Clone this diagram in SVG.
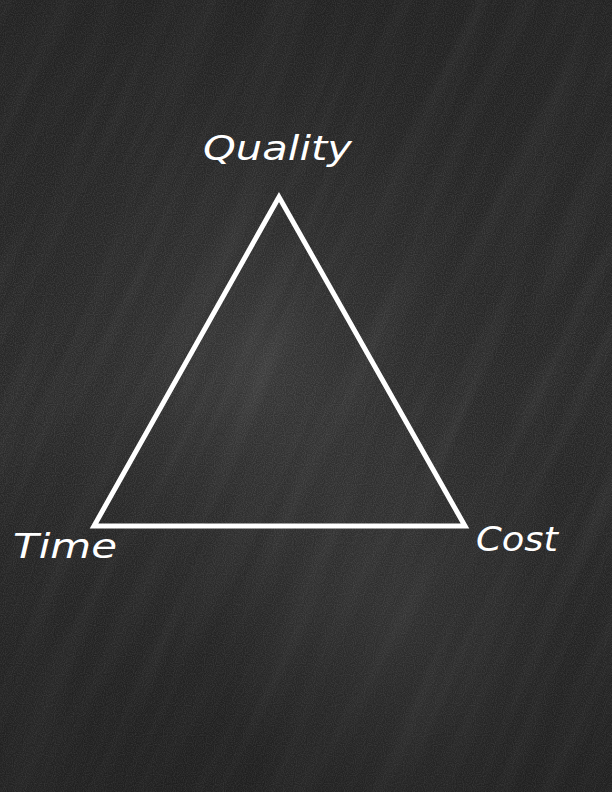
<svg xmlns="http://www.w3.org/2000/svg" width="612" height="792" viewBox="0 0 612 792">
  <defs>
    <radialGradient id="glow1" cx="0.42" cy="0.45" r="0.6">
      <stop offset="0" stop-color="#4a4a4a" stop-opacity="0.5"/>
      <stop offset="1" stop-color="#1c1c1c" stop-opacity="0"/>
    </radialGradient>
    <radialGradient id="glow2" cx="0.65" cy="0.78" r="0.3">
      <stop offset="0" stop-color="#555" stop-opacity="0.3"/>
      <stop offset="1" stop-color="#555" stop-opacity="0"/>
    </radialGradient>
    <linearGradient id="vign" x1="0" y1="0" x2="0" y2="1">
      <stop offset="0" stop-color="#000" stop-opacity="0.15"/>
      <stop offset="0.5" stop-color="#000" stop-opacity="0"/>
      <stop offset="1" stop-color="#000" stop-opacity="0.2"/>
    </linearGradient>
    <filter id="streaks" x="0" y="0" width="100%" height="100%">
      <feTurbulence type="fractalNoise" baseFrequency="0.004 0.05" numOctaves="3" seed="7" result="n"/>
      <feColorMatrix type="matrix" values="0 0 0 0 1  0 0 0 0 1  0 0 0 0 1  0.9 0 0 0 -0.35"/>
    </filter>
    <filter id="grain" x="0" y="0" width="100%" height="100%">
      <feTurbulence type="fractalNoise" baseFrequency="0.9" numOctaves="1" seed="3"/>
      <feColorMatrix type="matrix" values="0 0 0 0 1  0 0 0 0 1  0 0 0 0 1  0.5 0 0 0 -0.18"/>
    </filter>
    <style>
      .lbl { font-family: "DejaVu Sans", sans-serif; font-style: oblique; fill: #ffffff; font-size: 34px; }
      .edge { fill: none; stroke: #ffffff; stroke-width: 5; stroke-linejoin: miter; }
    </style>
  </defs>

  <g id="background">
    <rect x="0" y="0" width="612" height="792" fill="#282828"/>
    <rect x="0" y="0" width="612" height="792" fill="url(#glow1)"/>
    <rect x="0" y="0" width="612" height="792" fill="url(#glow2)"/>
    <g transform="rotate(-65 306 396)" opacity="0.09">
      <rect x="-300" y="-300" width="1212" height="1392" filter="url(#streaks)"/>
    </g>
    <rect x="0" y="0" width="612" height="792" filter="url(#grain)" opacity="0.5"/>
    <rect x="0" y="0" width="612" height="792" fill="url(#vign)"/>
  </g>

  <g id="connectors">
    <polygon class="edge" points="279,197 94,526 465,526"/>
  </g>

  <g id="node-quality">
    <text class="lbl" x="203" y="160" textLength="149" lengthAdjust="spacingAndGlyphs">Quality</text>
  </g>
  <g id="node-time">
    <text class="lbl" x="13" y="558" textLength="104" lengthAdjust="spacingAndGlyphs">Time</text>
  </g>
  <g id="node-cost">
    <text class="lbl" x="476" y="551" textLength="82" lengthAdjust="spacingAndGlyphs">Cost</text>
  </g>
</svg>
